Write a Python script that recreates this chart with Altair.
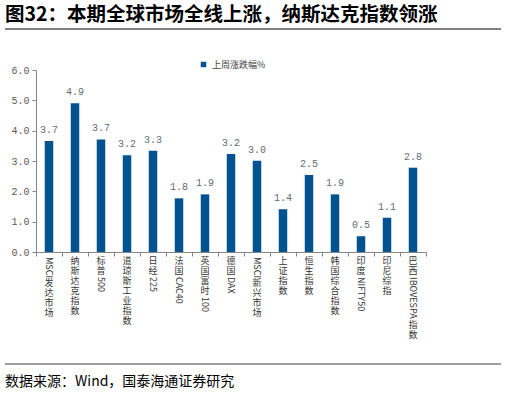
import altair as alt
import pandas as pd

categories = ["MSCI发达市场", "纳斯达克指数", "标普500", "道琼斯工业指数", "日经225",
              "法国CAC40", "英国富时100", "德国DAX", "MSCI新兴市场", "上证指数",
              "恒生指数", "韩国综合指数", "印度NIFTY50", "印尼综指", "巴西IBOVESPA指数"]
values = [3.66, 4.90, 3.71, 3.19, 3.34, 1.77, 1.90, 3.23, 3.01, 1.41,
          2.54, 1.90, 0.52, 1.13, 2.78]
y_ticks = [0, 1, 2, 3, 4, 5, 6]
series_name = "上周涨跌幅%"
title_text = "图32：本期全球市场全线上涨，纳斯达克指数领涨"
source_text = "数据来源：Wind，国泰海通证券研究"

W, H = 390, 182
BLUE = "#00538F"
GRAY = "#868686"
CJK = "Noto Sans CJK SC"
MONO = "Liberation Mono"

df = pd.DataFrame({"cat": categories, "val": values, "series": series_name})

# vertical category labels: CJK runs stacked upright, latin runs rotated
LAB_FS = 9
CJK_STEP = 10.0
def latin_w(ch):
    if ch.isdigit():
        return 5.0
    if ch in "I":
        return 2.6
    if ch in "M":
        return 7.2
    return 5.8

cjk_rows, lat_rows = [], []
for c in categories:
    off = H + 5
    i = 0
    while i < len(c):
        j = i
        is_lat = ord(c[i]) < 128
        while j < len(c) and (ord(c[j]) < 128) == is_lat:
            j += 1
        run = c[i:j]
        if is_lat:
            lat_rows.append({"cat": c, "tok": run, "off": off})
            off += sum(latin_w(ch) for ch in run) + 1
        else:
            cjk_rows.append({"cat": c, "tok": list(run), "off": off})
            off += CJK_STEP * len(run)
        i = j
cjk_df = pd.DataFrame(cjk_rows)
lat_df = pd.DataFrame(lat_rows)

x_axis = alt.Axis(labels=False, title=None, tickBand="extent", tickSize=4,
                  tickColor=GRAY, domainColor=GRAY, ticks=True)
y_axis = alt.Axis(values=y_ticks, format=".1f", title=None, grid=False,
                  tickSize=4, tickColor=GRAY, domainColor=GRAY,
                  labelFont=MONO, labelFontSize=10, labelColor="#595959",
                  labelPadding=3, labelOverlap=False)
x_scale = alt.Scale(paddingInner=0, paddingOuter=0)
y_scale = alt.Scale(domain=[0, 6], nice=False)

bars = alt.Chart(df).mark_bar(size=8.5).encode(
    x=alt.X("cat:N", sort=categories, scale=x_scale, axis=x_axis),
    y=alt.Y("val:Q", scale=y_scale, axis=y_axis),
    color=alt.Color("series:N", scale=alt.Scale(domain=[series_name], range=[BLUE]),
                    legend=alt.Legend(title=None, orient="none", legendX=163, legendY=-10,
                                      symbolType="square", symbolSize=30,
                                      labelFont=CJK, labelFontSize=9, labelColor="#404040")),
)

val_text = alt.Chart(df).mark_text(baseline="bottom", dy=-6, font=MONO, fontSize=10,
                                   color="#5F6B78").encode(
    x=alt.X("cat:N", sort=categories, scale=x_scale, axis=x_axis),
    y=alt.Y("val:Q", scale=y_scale, axis=y_axis),
    text=alt.Text("val:Q", format=".1f"),
)

main = alt.layer(bars, val_text)

cat_cjk = alt.Chart(cjk_df).mark_text(
    font=CJK, fontSize=LAB_FS, color="#333333", align="center", baseline="top",
    lineHeight=CJK_STEP).encode(
    x=alt.X("cat:N", sort=categories),
    y=alt.Y("off:Q", scale=None, axis=None),
    text="tok",
)
cat_lat = alt.Chart(lat_df).mark_text(
    font=CJK, fontSize=LAB_FS, color="#333333", align="left", baseline="middle", angle=90).encode(
    x=alt.X("cat:N", sort=categories),
    y=alt.Y("off:Q", scale=None, axis=None),
    text="tok:N",
)

one = pd.DataFrame({"a": [0]})
title = alt.Chart(one).mark_text(text=title_text, font=CJK, fontSize=19.5, fontWeight="bold",
                                 align="left", baseline="alphabetic", color="#000000").encode(
    x=alt.value(-31), y=alt.value(-49))
title_rule = alt.Chart(one).mark_rule(color="#7F7F7F", strokeWidth=2).encode(
    x=alt.value(-31), x2=alt.value(465), y=alt.value(-41))
foot_rule = alt.Chart(one).mark_rule(color="#7F7F7F", strokeWidth=1.5).encode(
    x=alt.value(-31), x2=alt.value(465), y=alt.value(294))
foot = alt.Chart(one).mark_text(text=source_text, font=CJK, fontSize=14,
                                align="left", baseline="alphabetic", color="#000000").encode(
    x=alt.value(-31), y=alt.value(316))

chart = alt.layer(main, cat_cjk, cat_lat, title, title_rule, foot_rule, foot).resolve_scale(
    y="independent"
).properties(
    width=W, height=H,
    autosize=alt.AutoSizeParams(type="none"),
    padding={"left": 36, "top": 70, "right": 80, "bottom": 142},
).configure_view(stroke=None)

chart.save("out.html", embed_options={"renderer": "svg", "actions": False})
